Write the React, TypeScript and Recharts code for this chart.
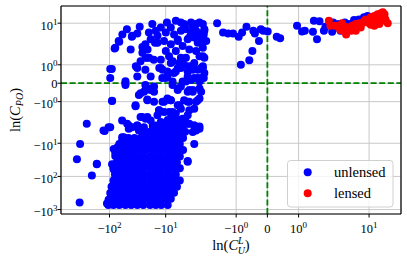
import React from "react";
import { ScatterChart, Scatter, XAxis, YAxis, CartesianGrid, ReferenceLine } from "recharts";

if (typeof document !== "undefined") document.body.style.margin = "0";

// ---- data: ln(C_U^L) (x) vs ln(C_PO) (y) ----
const unlensedUpper: [number, number][] = [
  [-97,0.77],[-91,0.77],[-81,1.89],[-67,2.78],[-59,4.6],[-49,6.6],[-42,1.83],[-40,3.9],[-32,4.9],[-29,7.8],
  [-34,0.92],[-32,0.37],[-28,1.19],[-26,1.97],[-23,2.3],[-21,1.83],[-18.5,3.27],[-17.3,9.4],[-15,5.9],[-14,4.15],
  [-15.5,2.59],[-16.3,1.28],[-19.7,1.38],[-26,1.65],[-23,0.73],[-13,0.83],[-12.2,1.28],[-11.5,0.28],[-9.5,10.5],[-10.7,2.92],
  [-8.1,2.3],[-8.1,7.45],[-6.6,11.9],[-7.1,4.6],[-9.95,1.75],[-8.7,1.47],[-6.6,1.75],[-7.5,1.19],[-11.4,0.73],[-9.3,0.37],
  [-6.6,0.64],[-5.7,1.1],[-5.36,0.83],[-6.1,2.92],[-5.36,5.9],[-5,2.05],[-4.36,6.6],[-4.06,3.27],[-3.8,1.83],[-4.36,1.38],
  [-3.8,0.92],[-4.06,0.37],[-3.3,8.4],[-2.88,9.4],[-2.5,10.5],[-2.18,9.4],[-2.88,5.9],[-3.1,3.7],[-2.69,2.59],[-2.88,1.75],
  [-2.5,1.47],[-3.1,1.1],[-2.69,0.73],[-3.1,0.28],[-2.34,0.28],[-2.18,0.83],[-2.05,2.92],[-3.54,5.2],[-4.7,9.4],[-5.36,10.5],
  [-68.6,2.92],[-79,1.93],[-39.5,4.15],
  [-3.54,10.5],[-3.1,7.45],[-2.6,4.88],[-3.8,3.7],[-4.7,8.4],[-2.34,3.7],[-2.05,5.9],[-2.05,1.38],[-2.18,1.93],[-2.05,0.55],
  [-12.2,7.45],[-9.95,5.2],[-14,2.59],[-19.9,5.2],[-22.8,1.38],[-8.1,1.1],[-9.95,0.28],[-18.5,0.37],[-5.36,1.38],[-6.1,3.2],
  [-2.05,6.6],[-2.1,4.6],[-1.96,2.92],[-2.18,1.47],[-2.18,0.92],[-2.1,0.28],
  [-21.2,1.38],[-32.1,0.83],[-12.2,0.83],[-9.3,0.64],[-7.1,0.55],[-6.1,0.83],[-4.7,1.0],[-4.06,0.64],[-3.3,0.73],[-2.34,0.83],
  [-2.69,0.28],[-3.54,0.18],[-4.36,0.09],
  [-52,0.11],[-7.55,0.09],[-5,0.09],[-2.5,0.09],[-97,0.28],[-52,0],
];

const unlensedMid: [number, number][] = [
  [-23,-0.09],[-16.1,-0.18],[-18.5,-0.37],[-24.4,-0.46],[-52,-0.09],[-7.55,-0.09],[-6.1,-0.28],[-5.36,-0.18],[-3.3,-0.46],[-3.8,-0.37],
  [-2.5,-0.28],[-30,-0.64],[-21.2,-0.88],[-90,-0.95],[-34.4,-1.25],[-11.4,-1.0],[-9.3,-0.88],[-8.1,-0.92],[-5.7,-1.19],[-4.7,-0.92],
  [-3.8,-1.0],[-2.88,-1.0],[-2.5,-0.83],[-13.1,-1.47],[-14,-1.74],[-10.7,-1.56],[-8.7,-1.56],[-6.6,-1.65],[-5,-1.93],[-4.06,-1.74],
  [-26.1,-1.83],[-21.2,-1.83],[-59.6,-2.05],[-45.4,-2.92],[-39.5,-3.27],[-32.1,-2.92],[-24.4,-3.27],[-26.1,-4.6],[-16.1,-4.15],[-15,-2.92],
  [-12.2,-3.27],[-9.3,-2.92],[-7.55,-2.3],[-6.6,-1.93],[-5.7,-2.05],[-5,-2.59],[-3.8,-2.59],[-3.1,-2.92],[-2.5,-3.1],[-3.3,-4.6],
  [-2.88,-4.15],[-28,-0.55],[-22.8,-0.37],[-18.5,-0.28],[-16.1,-0.46],[-6.1,-0.37],[-4.06,-0.46],[-3.3,-0.37],[-2.34,-0.46],[-34.4,-1.19],
  [-21.2,-0.92],[-16.1,-1.0],[-10.7,-1.0],[-9.3,-0.83],[-8.1,-0.92],[-6.1,-1.19],[-4.06,-1.0],[-2.69,-0.92],[-13.1,-1.47],[-7.55,-1.56],
  [-5.36,-1.38],[-3.8,-1.47],[-3.1,-1.38],[-28,-1.83],[-22.8,-1.93],[-18.5,-2.05],[-12.2,-2.3],[-8.1,-1.93],[-6.1,-2.05],[-48.5,-2.59],
  [-32.1,-2.92],[-45.4,-3.68],[-30,-4.15],[-4.06,-2.59],[-3.1,-2.92],[-2.5,-3.68],[-59.6,-6.6],[-55.8,-9.4],[-84,-15],[-79,-24.2],
  [-64,-30.5],[-4.06,-34.4],[-3.1,-10.6],[-4.06,-36],[-52,-9.4],[-59.6,-8.4],[-55.8,-6.6],[-73,-13.4],[-79,-19],[-68.6,-24.2],
  [-90,-43],[-84,-61.6],
];

const unlensedCore: [number, number][] = [
  [-105,-725],[-85,-725],[-67,-725],[-52,-725],[-41,-725],[-32,-725],[-25,-725],[-19,-725],[-15,-725],[-12,-725],[-9.2,-725],
  [-97,-474],[-75,-474],[-59,-474],[-46,-474],[-36,-474],[-28,-474],[-22,-474],[-17,-474],[-13,-474],[-10.4,-474],[-8.1,-474],
  [-88,-311],[-67,-311],[-52,-311],[-41,-311],[-32,-311],[-25,-311],[-19,-311],[-15,-311],[-12,-311],[-9.2,-311],[-7.1,-311],
  [-92,-204],[-75,-204],[-59,-204],[-46,-204],[-36,-204],[-28,-204],[-22,-204],[-17,-204],[-13,-204],[-10.4,-204],[-8.1,-204],[-6.3,-204],
  [-85,-134],[-67,-134],[-52,-134],[-41,-134],[-32,-134],[-25,-134],[-19,-134],[-15,-134],[-12,-134],[-9.2,-134],[-7.1,-134],[-5.6,-134],
  [-80,-87],[-62,-87],[-48,-87],[-38,-87],[-30,-87],[-23,-87],[-18,-87],[-14,-87],[-11,-87],[-8.6,-87],[-6.6,-87],
  [-85,-57],[-67,-57],[-52,-57],[-41,-57],[-32,-57],[-25,-57],[-19,-57],[-15,-57],[-12,-57],[-9.2,-57],[-7.1,-57],[-5.6,-57],
  [-75,-38],[-59,-38],[-46,-38],[-36,-38],[-28,-38],[-22,-38],[-17,-38],[-13,-38],[-10.4,-38],[-8.1,-38],[-6.3,-38],
  [-67,-25],[-52,-25],[-41,-25],[-32,-25],[-25,-25],[-19,-25],[-15,-25],[-12,-25],[-9.2,-25],[-7.1,-25],[-5.6,-25],
  [-75,-16],[-59,-16],[-46,-16],[-36,-16],[-28,-16],[-22,-16],[-17,-16],[-13,-16],[-10.4,-16],[-8.1,-16],[-6.3,-16],[-4.9,-16],
  [-67,-10.6],[-52,-10.6],[-41,-10.6],[-32,-10.6],[-25,-10.6],[-19,-10.6],[-15,-10.6],[-12,-10.6],[-9.2,-10.6],[-7.1,-10.6],[-5.6,-10.6],
  [-46,-6.9],[-36,-6.9],[-28,-6.9],[-22,-6.9],[-17,-6.9],[-13,-6.9],[-10.4,-6.9],[-8.1,-6.9],[-6.3,-6.9],[-4.9,-6.9],
  [-25,-4.5],[-19,-4.5],[-15,-4.5],[-12,-4.5],[-9.2,-4.5],[-7.1,-4.5],[-5.6,-4.5],[-4.5,-4.5],
  [-17,-3.0],[-13,-3.0],[-10.4,-3.0],[-8.1,-3.0],[-6.3,-3.0],[-4.9,-3.0],
  [-9.2,-2.0],[-7.1,-2.0],[-5.6,-2.0],[-4.5,-2.0],
];

const unlensedOutliers: [number, number][] = [
  [-340,-610],[-380,-30.5],[-334,-10.6],[-206,-94],[-168,-43],[-254,-2.59],[-128,-4.15],[-97,-3.27],
  [-104,-3.27],[-122,-4.3],[-90,-0.97],[-111,-660],[-97,-318],[-90,-200],[-104,-509],[-168,-41.2],
];

const unlensedRight: [number, number][] = [
  [-1.61,9.9],[-1.42,5.2],[-1.26,4.88],[-1.1,4.88],[-0.92,3.9],[-0.81,5.2],[-0.67,7.8],[-0.45,5.9],[-0.4,4.88],[-0.21,6.6],
  [-0.13,5.9],[0.01,5.6],[-0.27,2.92],[-0.48,1.75],[-0.58,1.25],[-0.85,1.0],[0.3,3.9],[0.41,3.5],[0.95,8.4],[1.11,5.6],
  [1.2,5.9],[1.49,11.9],[1.67,11.4],[1.46,5.5],[1.59,3.27],[1.81,5.9],[1.86,7.8],[2.3,10.5],[2.2,5.5],[2.5,7.45],
  [2.9,9.4],[3.1,5.9],[3.7,10.5],[4.4,9.4],[5.4,12.4],[6.6,12.9],[8.1,15.1],[9.4,16.5],[5.8,9.4],[4.8,6.6],
];

const lensed: [number, number][] = [
  [1.97,11.9],[2.05,8.4],[2.9,7.45],[3.3,9.9],[3.7,6.6],[3.9,5.2],[3.8,7.8],[4.4,7.45],[4.8,5.9],[5.05,8.4],
  [5.8,9.4],[6.2,7.8],[6.7,9.9],[7.3,9.4],[8.1,11.4],[8.7,12.9],[9.4,10.5],[10.0,12.4],[10.7,15.1],[11.5,11.9],
  [12.4,16.5],[13.2,14.0],[14.2,18.6],[15.2,16.0],[16.3,19.9],[17.5,21.5],[18.8,18.6],[19.6,12.9],[21.5,9.9],[17,11.9],
  [14.2,11.4],[10.7,9.0],[7.1,7.45],[5.8,5.9],[3.9,4.6],[3.1,6.2],[2.5,8.4],[15.2,9.4],[12.4,8.4],
];

const xTickValues = [-100, -10, -1, 0, 1, 10];
const yTickValues = [-1000, -100, -10, -1, 0, 1, 10];
const xLimits = [-730, 37];
const yLimits = [-1360, 33];

// ---- symmetric log transform (linthresh 2, linscale 1, base 10) ----
const LINTHRESH = 2;
const LINSCALE = 1 / (1 - 1 / 10);
function symlog(v: number): number {
  const a = Math.abs(v);
  if (a <= LINTHRESH) return (v / LINTHRESH) * LINSCALE;
  return Math.sign(v) * (LINSCALE + Math.log10(a / LINTHRESH));
}

const toPts = (arr: [number, number][]) => arr.map(([x, y]) => ({ sx: symlog(x), sy: symlog(y) }));
const blueData = toPts([...unlensedUpper, ...unlensedMid, ...unlensedCore, ...unlensedOutliers, ...unlensedRight]);
const redData = toPts(lensed);

const FONT = "'Liberation Serif', 'DejaVu Serif', 'Noto Serif', 'Tinos', 'Times New Roman', serif";

function rawOf(t: number, list: number[]): number {
  let best = list[0];
  for (const v of list) if (Math.abs(symlog(v) - t) < Math.abs(symlog(best) - t)) best = v;
  return best;
}
function parts(v: number) {
  if (v === 0) return { base: "0", exp: "" };
  return { base: (v < 0 ? "\u2212" : "") + "10", exp: String(Math.round(Math.log10(Math.abs(v)))) };
}

const XTick = (props: any) => {
  const { x, y, payload } = props;
  const { base, exp } = parts(rawOf(payload.value, xTickValues));
  return (
    <text x={x} y={y + 13} textAnchor="middle" fontFamily={FONT} fontSize={12.5} fill="#000">
      {base}
      {exp && <tspan dy={-5} fontSize={9}>{exp}</tspan>}
    </text>
  );
};

const YTick = (props: any) => {
  const { x, y, payload } = props;
  const { base, exp } = parts(rawOf(payload.value, yTickValues));
  return (
    <text x={x} y={y + (exp ? 6.4 : 4.3)} textAnchor="end" fontFamily={FONT} fontSize={12.5} fill="#000">
      {base}
      {exp && <tspan dy={-5} fontSize={9}>{exp}</tspan>}
    </text>
  );
};

const Dot = (color: string) => (p: any) => <circle cx={p.cx} cy={p.cy} r={4} fill={color} />;

export default function App() {
  const xDom = [symlog(xLimits[0]), symlog(xLimits[1])];
  const yDom = [symlog(yLimits[0]), symlog(yLimits[1])];
  return (
    <div style={{ position: "relative", width: 407, height: 260, background: "#fff", fontFamily: FONT }}>
      <ScatterChart width={407} height={260} margin={{ top: 6, right: 6, bottom: 0, left: 0 }}>
        <CartesianGrid stroke="#c8c8c8" strokeWidth={1} />
        <XAxis
          type="number"
          dataKey="sx"
          domain={xDom}
          allowDataOverflow
          ticks={xTickValues.map(symlog)}
          interval={0}
          height={46}
          tick={<XTick />}
          tickSize={3.5}
          tickMargin={2}
          stroke="#000"
          axisLine={{ stroke: "#000", strokeWidth: 1.2 }}
          tickLine={{ stroke: "#000" }}
        />
        <YAxis
          type="number"
          dataKey="sy"
          domain={yDom}
          allowDataOverflow
          ticks={yTickValues.map(symlog)}
          interval={0}
          width={61}
          tick={<YTick />}
          tickSize={3.5}
          tickMargin={0}
          axisLine={{ stroke: "#000", strokeWidth: 1.2 }}
          tickLine={{ stroke: "#000" }}
        />
        <Scatter data={blueData} fill="#0000ff" shape={Dot("#0000ff")} isAnimationActive={false} />
        <Scatter data={redData} fill="#ff0000" shape={Dot("#ff0000")} isAnimationActive={false} />
        <ReferenceLine x={0} stroke="#008000" strokeWidth={1.8} strokeDasharray="6 2.6" />
        <ReferenceLine y={0} stroke="#008000" strokeWidth={1.8} strokeDasharray="6 2.6" />
        <ReferenceLine x={xDom[1]} stroke="#000" strokeWidth={1.2} ifOverflow="visible" />
        <ReferenceLine y={yDom[1]} stroke="#000" strokeWidth={1.2} ifOverflow="visible" />
      </ScatterChart>
      <svg width={407} height={260} style={{ position: "absolute", left: 0, top: 0, pointerEvents: "none" }}>
        <rect x={287.5} y={160.5} width={105.5} height={46.5} rx={3} fill="#fff" fillOpacity={0.8} stroke="#d0d0d0" strokeWidth={1} />
        <circle cx={307.7} cy={172.3} r={4} fill="#0000ff" />
        <text x={334} y={177.3} fontFamily={FONT} fontSize={14.5} fill="#000">unlensed</text>
        <circle cx={307.7} cy={193.3} r={4} fill="#ff0000" />
        <text x={334} y={198.3} fontFamily={FONT} fontSize={14.5} fill="#000">lensed</text>
        <text x={231} y={250} textAnchor="middle" fontFamily={FONT} fontSize={14.5} fill="#000">
          ln(<tspan fontStyle="italic">C</tspan>
          <tspan fontStyle="italic" fontSize={10} dy={-6}>L</tspan>
          <tspan fontStyle="italic" fontSize={10} dx={-6} dy={10}>U</tspan>
          <tspan dy={-4}>)</tspan>
        </text>
        <text x={20} y={110} transform="rotate(-90 20 110)" textAnchor="middle" fontFamily={FONT} fontSize={14.5} fill="#000">
          ln(<tspan fontStyle="italic">C</tspan>
          <tspan fontStyle="italic" fontSize={10} dy={3}>PO</tspan>
          <tspan dy={-3}>)</tspan>
        </text>
      </svg>
    </div>
  );
}
